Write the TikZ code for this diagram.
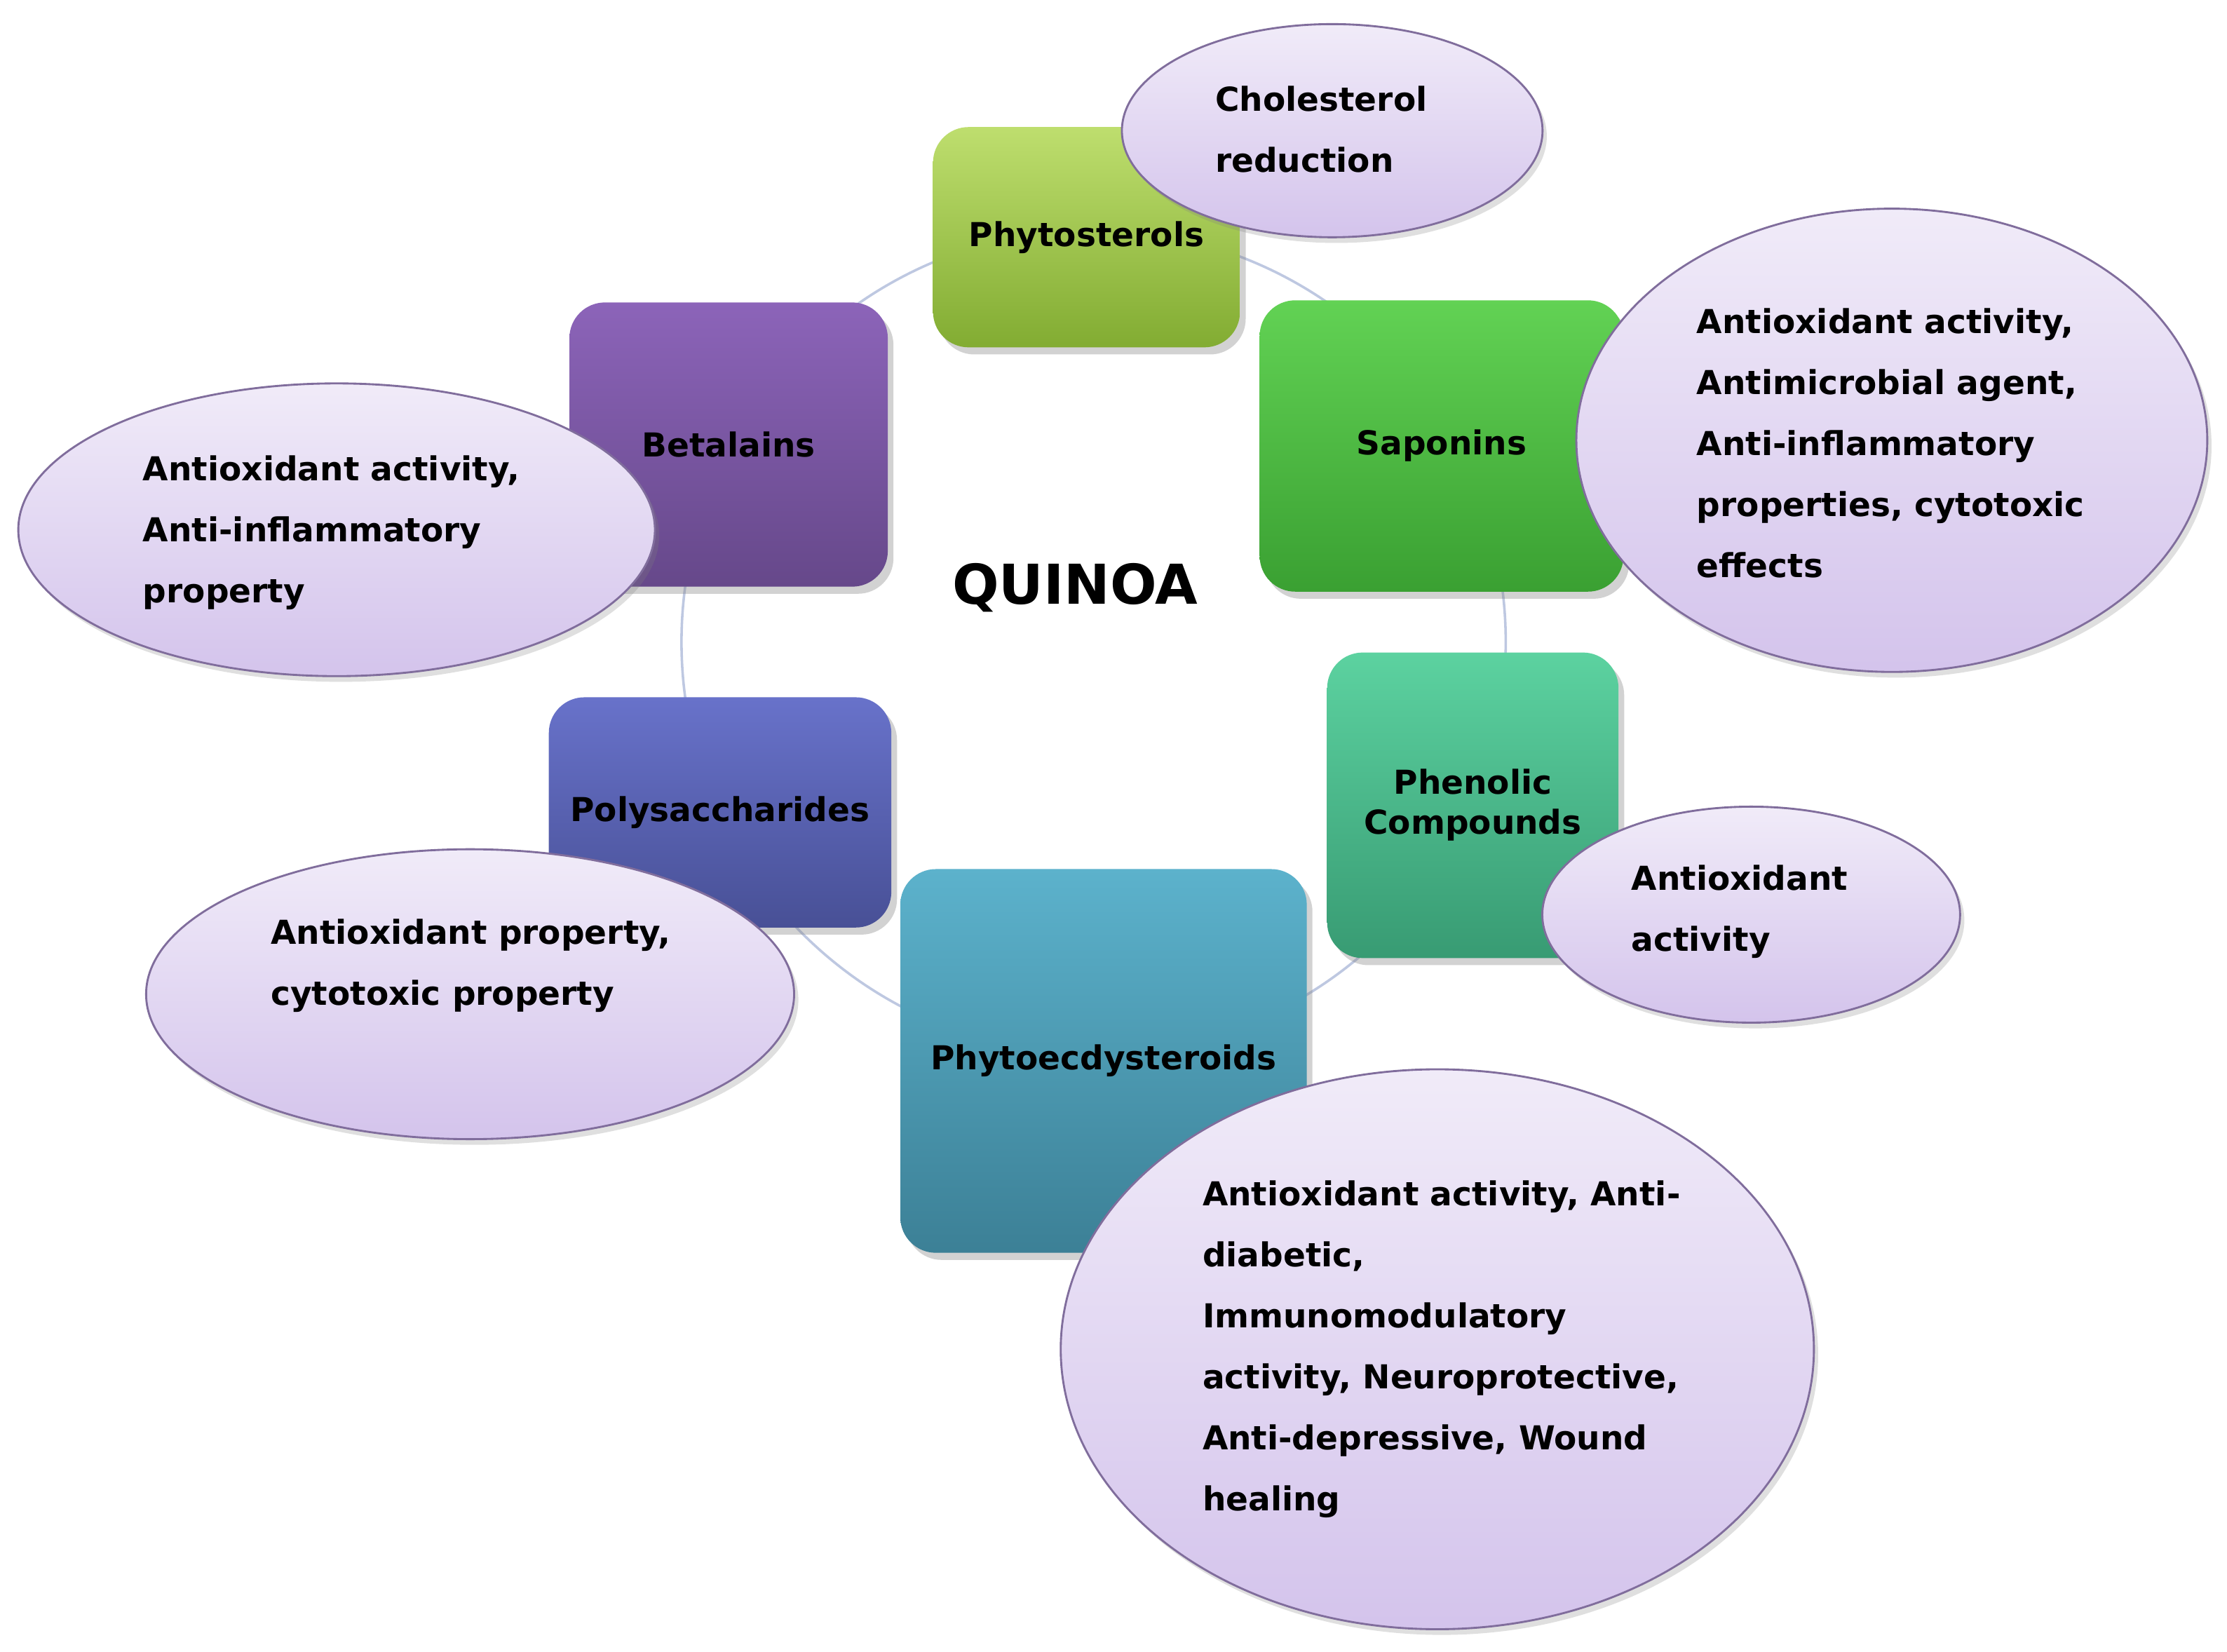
\documentclass[tikz,border=0pt]{standalone}
\usepackage{fontspec}
\setmainfont{DejaVu Sans}
\usetikzlibrary{shapes.geometric,shadows}
\begin{document}
\begin{tikzpicture}[x={(0.01cm,0)},y={(0,-0.01cm)},
  box/.style={draw=none,rounded corners=0.25cm,drop shadow={opacity=0.35,shadow xshift=0.04cm,shadow yshift=-0.05cm},font=\bfseries\fontsize{6.6}{8}\selectfont,align=center,inner sep=0},
  ell/.style={ellipse,draw=#1!70!black,line width=0.4pt,top color=#1!20,bottom color=#1!60,drop shadow={opacity=0.25,shadow xshift=0.03cm,shadow yshift=-0.04cm},inner sep=0},
  ell/.default=lav,
  txt/.style={anchor=west,align=left,inner sep=0,font=\bfseries\fontsize{6.6}{12.2}\selectfont}]
\definecolor{lav}{HTML}{B79CDF}
\useasboundingbox (0,0) rectangle (1568,1163);
\fill[white] (0,0) rectangle (1568,1163);
\draw[color={rgb,255:red,190;green,200;blue,225},line width=0.5pt] (770,452) circle [radius=2.9cm];
% boxes
\node[box,minimum width=2.16cm,minimum height=1.55cm,top color={rgb,255:red,190;green,222;blue,110},bottom color={rgb,255:red,130;green,172;blue,50}] (phy) at (765,167) {Phytosterols};
\node[box,minimum width=2.56cm,minimum height=2.05cm,top color={rgb,255:red,98;green,210;blue,84},bottom color={rgb,255:red,58;green,160;blue,50}] (sap) at (1015,314) {Saponins};
\node[box,minimum width=2.24cm,minimum height=2.0cm,top color={rgb,255:red,140;green,100;blue,185},bottom color={rgb,255:red,102;green,72;blue,138}] (bet) at (513,313) {Betalains};
\node[box,minimum width=2.05cm,minimum height=2.15cm,top color={rgb,255:red,92;green,210;blue,160},bottom color={rgb,255:red,56;green,155;blue,115}] (phe) at (1037,567) {Phenolic\\Compounds};
\node[box,minimum width=2.41cm,minimum height=1.62cm,top color={rgb,255:red,104;green,114;blue,202},bottom color={rgb,255:red,72;green,80;blue,150}] (pol) at (507,572) {Polysaccharides};
\node[box,minimum width=2.86cm,minimum height=2.7cm,top color={rgb,255:red,92;green,178;blue,204},bottom color={rgb,255:red,60;green,128;blue,150}] (ecd) at (777,747) {Phytoecdysteroids};
\node[font=\rmfamily\bfseries\fontsize{11}{13}\selectfont,inner sep=0] (q) at (757,414) {QUINOA};
\setmainfont{DejaVu Sans}
% ellipses
\node[ell,minimum width=2.96cm,minimum height=1.5cm] (e1) at (938,92) {};
\node[txt] (t1) at (855,91) {Cholesterol\\reduction};
\node[ell,minimum width=4.44cm,minimum height=3.26cm] (e2) at (1332,310) {};
\node[txt] (t2) at (1194,312) {Antioxidant activity,\\Antimicrobial agent,\\Anti-inflammatory\\properties, cytotoxic\\effects};
\node[ell,minimum width=4.48cm,minimum height=2.06cm] (e3) at (237,373) {};
\node[txt] (t3) at (100,375) {Antioxidant activity,\\Anti-inflammatory\\property};
\node[ell,minimum width=2.94cm,minimum height=1.52cm] (e4) at (1233,644) {};
\node[txt] (t4) at (1148,642) {Antioxidant\\activity};
\node[ell,minimum width=4.56cm,minimum height=2.04cm] (e5) at (331,700) {};
\node[txt] (t5) at (190,680) {Antioxidant property,\\cytotoxic property};
\node[ell,minimum width=5.3cm,minimum height=3.94cm] (e6) at (1012,950) {};
\node[txt] (t6) at (846,950) {Antioxidant activity, Anti-\\diabetic,\\Immunomodulatory\\activity, Neuroprotective,\\Anti-depressive, Wound\\healing};
\end{tikzpicture}
\end{document}
